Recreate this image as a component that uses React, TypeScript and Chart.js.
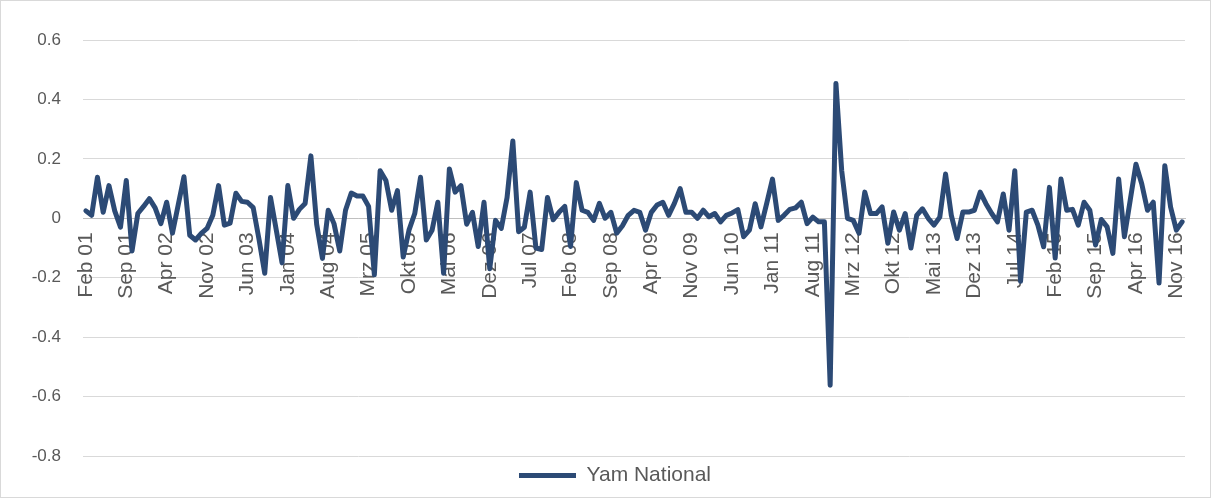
import React, { useEffect, useRef } from "react";
import { Chart, registerables } from "chart.js";

Chart.register(...registerables);

// Month names (German) used to build the category labels
const MONTHS = ["Jan", "Feb", "Mrz", "Apr", "Mai", "Jun", "Jul", "Aug", "Sep", "Okt", "Nov", "Dez"];
const START_YEAR = 2001;
const START_MONTH_INDEX = 1; // Feb
const LABEL_EVERY = 7;

// Series values: Yam National, monthly Feb 01 .. Dez 16
const yamNational = [
  0.025, 0.01, 0.138, 0.02, 0.11, 0.025, -0.03, 0.127, -0.11, 0.016,
  0.04, 0.066, 0.035, -0.018, 0.054, -0.05, 0.045, 0.14, -0.057, -0.073,
  -0.051, -0.034, 0.01, 0.11, -0.023, -0.016, 0.084, 0.057, 0.054, 0.036,
  -0.07, -0.185, 0.07, -0.04, -0.15, 0.11, 0.0, 0.03, 0.05, 0.21,
  -0.02, -0.135, 0.027, -0.018, -0.11, 0.027, 0.085, 0.075, 0.075, 0.04,
  -0.19, 0.16, 0.127, 0.027, 0.093, -0.13, -0.04, 0.016, 0.138, -0.073,
  -0.04, 0.054, -0.185, 0.166, 0.088, 0.11, -0.02, 0.02, -0.095, 0.054,
  -0.17, -0.007, -0.034, 0.07, 0.26, -0.045, -0.03, 0.088, -0.1, -0.105,
  0.07, -0.005, 0.02, 0.04, -0.095, 0.12, 0.027, 0.02, -0.007, 0.05,
  0.0, 0.02, -0.05, -0.025, 0.01, 0.027, 0.02, -0.04, 0.02, 0.045,
  0.054, 0.01, 0.05, 0.1, 0.02, 0.02, 0.0, 0.027, 0.005, 0.016,
  -0.012, 0.01, 0.018, 0.029, -0.062, -0.04, 0.049, -0.029, 0.05, 0.132,
  -0.007, 0.01, 0.03, 0.035, 0.054, -0.018, 0.004, -0.012, -0.012, -0.562,
  0.454, 0.16, 0.0, -0.007, -0.05, 0.088, 0.016, 0.016, 0.038, -0.084,
  0.021, -0.04, 0.016, -0.1, 0.01, 0.032, 0.0, -0.023, 0.004, 0.149,
  0.01, -0.068, 0.021, 0.021, 0.027, 0.088, 0.049, 0.016, -0.012, 0.082,
  -0.04, 0.16, -0.212, 0.021, 0.027, -0.023, -0.096, 0.104, -0.134, 0.132,
  0.027, 0.03, -0.023, 0.054, 0.027, -0.09, -0.004, -0.029, -0.118, 0.132,
  -0.062, 0.06, 0.182, 0.116, 0.027, 0.054, -0.218, 0.177, 0.038, -0.04,
  -0.012,
];

const categories = yamNational.map((_, i) => {
  const k = START_MONTH_INDEX + i;
  const m = k % 12;
  const y = START_YEAR + Math.floor(k / 12);
  return `${MONTHS[m]} ${String(y % 100).padStart(2, "0")}`;
});

const Y_MIN = -0.8;
const Y_MAX = 0.6;
const Y_STEP = 0.2;

const SERIES_NAME = "Yam National";
const LINE_COLOR = "#2c4a75";
const TEXT_COLOR = "#595959";
const FONT_FAMILY = "'Liberation Sans', Arial, sans-serif";
const Y_FONT_SIZE = 17;
const X_FONT_SIZE = 21;
const LEGEND_FONT_SIZE = 21;
const LEGEND_SHIFT = 22;

// shifts the bottom legend horizontally (reference legend sits right of centre)
const legendShift = {
  id: "legendShift",
  afterLayout(chart: any) {
    const l = chart.legend;
    if (l) {
      l.left += LEGEND_SHIFT;
      l.right += LEGEND_SHIFT;
    }
  },
};

export default function App() {
  const canvasRef = useRef<HTMLCanvasElement | null>(null);

  useEffect(() => {
    const canvas = canvasRef.current;
    if (!canvas) return;
    const chart = new Chart(canvas, {
      type: "line",
      data: {
        labels: categories,
        datasets: [
          {
            label: SERIES_NAME,
            data: yamNational,
            borderColor: LINE_COLOR,
            backgroundColor: LINE_COLOR,
            borderWidth: 5,
            pointRadius: 0,
            pointHoverRadius: 0,
            tension: 0,
            fill: false,
            borderJoinStyle: "round",
            borderCapStyle: "round",
          },
        ],
      },
      plugins: [legendShift],
      options: {
        animation: false,
        responsive: false,
        devicePixelRatio: 1,
        layout: { padding: { left: 0, right: 25, top: 39, bottom: 1 } },
        plugins: {
          tooltip: { enabled: false },
          legend: {
            position: "bottom",
            labels: {
              usePointStyle: true,
              pointStyle: "line",
              pointStyleWidth: 57,
              color: TEXT_COLOR,
              font: { family: FONT_FAMILY, size: LEGEND_FONT_SIZE },
              padding: 9,
            },
          },
        },
        scales: {
          y: {
            min: Y_MIN,
            max: Y_MAX,
            afterFit: (s: any) => {
              s.width = 82;
            },
            ticks: {
              stepSize: Y_STEP,
              padding: 22,
              color: TEXT_COLOR,
              font: { family: FONT_FAMILY, size: Y_FONT_SIZE },
              callback: (v: any) => {
                const n = Number(v);
                if (Math.abs(n) < 1e-9) return "0";
                return n.toFixed(1);
              },
            },
            grid: { color: "#d9d9d9", lineWidth: 1, drawTicks: false },
            border: { display: false },
          },
          x: {
            type: "category",
            position: { y: 0 },
            offset: true,
            afterFit: (s: any) => {
              s.paddingLeft = 0;
              s.paddingRight = 0;
            },
            grid: { display: false, drawTicks: false },
            border: { display: true, color: "#bfbfbf", width: 1 },
            ticks: {
              autoSkip: false,
              minRotation: 90,
              maxRotation: 90,
              padding: 14,
              color: TEXT_COLOR,
              font: { family: FONT_FAMILY, size: X_FONT_SIZE },
              callback: (_v: any, i: number) => (i % LABEL_EVERY === 0 ? categories[i] : null),
            },
          },
        },
      } as any,
    });
    return () => chart.destroy();
  }, []);

  return (
    <div
      style={{
        position: "absolute",
        left: 0,
        top: 0,
        width: 1211,
        height: 498,
        boxSizing: "border-box",
        border: "1px solid #d9d9d9",
        background: "#fff",
      }}
    >
      <canvas ref={canvasRef} width={1209} height={496} style={{ display: "block" }} />
    </div>
  );
}
